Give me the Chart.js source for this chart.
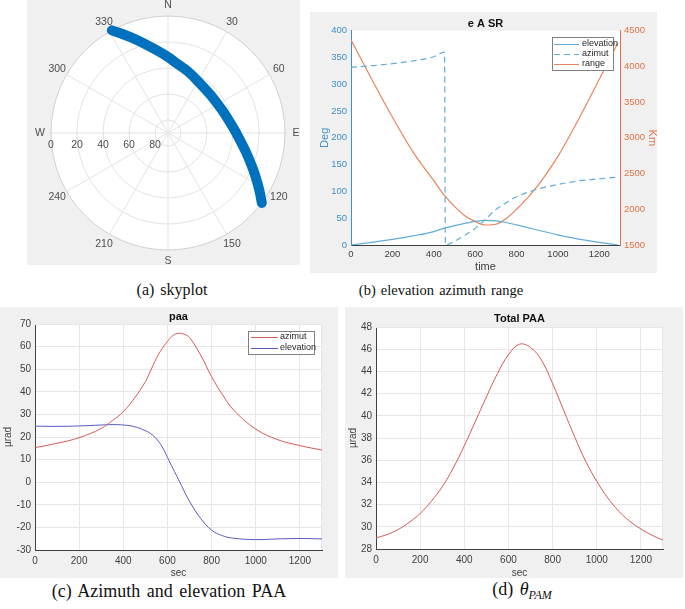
<!DOCTYPE html>
<html>
<head>
<meta charset="utf-8">
<script src="https://cdn.jsdelivr.net/npm/chart.js@4.4.1/dist/chart.umd.min.js"></script>
<style>
  body { margin: 0; background: #fff; width: 685px; height: 609px; position: relative; overflow: hidden; }
  .panel { position: absolute; background: #f0f0f0; }
  .panel canvas { display: block; }
  .caption { position: absolute; font-family: "Liberation Serif", "DejaVu Serif", serif; color: #111; white-space: nowrap; transform: translate(-50%, -50%); word-spacing: 2px; }
</style>
</head>
<body>
<div class="panel" style="left:27px;top:0;width:273px;height:265px"><canvas id="skyplot" width="273" height="265"></canvas></div>
<div class="panel" style="left:310px;top:12px;width:347px;height:261px"><canvas id="easr" width="347" height="261"></canvas></div>
<div class="panel" style="left:0;top:307px;width:338px;height:271px"><canvas id="paa" width="338" height="271"></canvas></div>
<div class="panel" style="left:345px;top:307px;width:338px;height:271px"><canvas id="totalPaa" width="338" height="271"></canvas></div>

<div class="caption" style="left:172px;top:290px;font-size:16px">(a) skyplot</div>
<div class="caption" style="left:441px;top:290px;font-size:14.5px;word-spacing:1.5px">(b) elevation azimuth range</div>
<div class="caption" style="left:169px;top:591px;font-size:18px">(c) Azimuth and elevation PAA</div>
<div class="caption" style="left:522px;top:591px;font-size:18px">(d) <i>θ</i><sub style="font-size:12px"><i>PAM</i></sub></div>

<script>
// (a)+(b) satellite pass: elevation / azimuth over time (deg)
const timeAE = [0, 100, 200, 300, 400, 452, 456, 500, 550, 600, 650, 700, 750, 800, 900, 1000, 1100, 1200, 1290];
const elevationDeg = [0, 5, 10.5, 17, 25, 31.5, 31.8, 36, 40.3, 44.2, 46.1, 45, 42, 37.5, 28, 19, 11, 5, 0];
const azimuthDeg = [331.3, 334.5, 338.3, 343.5, 351.2, 360, 0, 7, 18, 31, 48, 66, 79, 90, 104, 113, 119.3, 123.5, 126.7];

// (b) slant range (km)
const timeRange = [0, 100, 200, 300, 400, 450, 500, 550, 600, 650, 700, 750, 800, 850, 900, 950, 1000, 1100, 1200, 1290];
const rangeKm = [4370, 3820, 3290, 2800, 2400, 2200, 2040, 1910, 1830, 1780, 1790, 1870, 2000, 2150, 2320, 2520, 2740, 3260, 3820, 4330];

// (c) point-ahead angle components (urad)
const timePaa = [0, 100, 200, 300, 350, 400, 450, 500, 525, 550, 575, 600, 625, 650, 675, 700, 750, 800, 850, 900, 1000, 1100, 1200, 1300];
const azimutPaa = [15.3, 17.2, 19.7, 23.8, 27.2, 31.2, 37.1, 44.5, 49.6, 54.8, 59, 62.3, 64.9, 65.9, 65.5, 64, 56.3, 46.7, 38.6, 31.9, 23.5, 18.8, 16.2, 14.2];
const elevationPaa = [24.8, 24.7, 24.9, 25.3, 25.5, 25.3, 24.6, 22.8, 21.4, 19.2, 15.8, 11, 6, 1.2, -3.8, -8.5, -16, -21.2, -23.7, -24.8, -25.4, -25.1, -24.9, -25.1];

// (d) total PAA (urad)
const timeTotal = [0, 50, 100, 150, 200, 250, 300, 350, 400, 450, 500, 550, 600, 650, 700, 750, 800, 850, 900, 950, 1000, 1050, 1100, 1150, 1200, 1250, 1300];
const totalPaa = [29.0, 29.3, 29.75, 30.4, 31.2, 32.3, 33.6, 35.3, 37.3, 39.5, 41.7, 43.8, 45.5, 46.45, 46.15, 45.0, 42.9, 40.5, 38.1, 35.9, 34.1, 32.6, 31.4, 30.5, 29.8, 29.25, 28.8];

// skyplot grid
const azimuthSpokes = [0, 30, 60, 90, 120, 150, 180, 210, 240, 270, 300, 330];
const azimuthLabels = ['N', '30', '60', 'E', '120', '150', 'S', '210', '240', 'W', '300', '330'];
const elevationRings = [0, 20, 40, 60, 80];

Chart.defaults.font.family = '"Liberation Sans", Arial, sans-serif';
Chart.defaults.color = '#404040';

const toXY = (xs, ys) => xs.map((x, i) => ({ x: x, y: ys[i] }));
const plain = v => String(v);

// white plot area + light frame on the open sides
const plotBackground = {
  id: 'plotBackground',
  beforeDraw(chart, args, opts) {
    const { ctx, chartArea: a } = chart;
    ctx.save();
    ctx.fillStyle = '#fff';
    ctx.fillRect(a.left, a.top, a.width, a.height);
    ctx.restore();
  },
  beforeDatasetsDraw(chart, args, opts) {
    if (!opts.frame) return;
    const { ctx, chartArea: a } = chart;
    ctx.save();
    ctx.strokeStyle = opts.frame;
    ctx.lineWidth = 1;
    ctx.beginPath();
    ctx.moveTo(a.left, a.top + 0.5);
    ctx.lineTo(a.right - 0.5, a.top + 0.5);
    ctx.lineTo(a.right - 0.5, a.bottom);
    ctx.stroke();
    ctx.restore();
  }
};

// matlab style legend box inside the axes
const boxLegend = {
  id: 'boxLegend',
  afterDatasetsDraw(chart, args, o) {
    const ctx = chart.ctx;
    ctx.save();
    ctx.fillStyle = '#fff';
    ctx.fillRect(o.x, o.y, o.w, o.h);
    ctx.strokeStyle = '#808080';
    ctx.lineWidth = 1;
    ctx.strokeRect(o.x + 0.5, o.y + 0.5, o.w, o.h);
    ctx.font = o.font;
    ctx.textBaseline = 'middle';
    chart.data.datasets.forEach((ds, i) => {
      const y = o.y + o.rowTop + i * o.rowH;
      ctx.strokeStyle = ds.borderColor;
      ctx.setLineDash(ds.borderDash || []);
      ctx.beginPath();
      ctx.moveTo(o.x + o.lineFrom, y + 0.5);
      ctx.lineTo(o.x + o.lineTo, y + 0.5);
      ctx.stroke();
      ctx.setLineDash([]);
      ctx.fillStyle = '#262626';
      ctx.fillText(ds.label, o.x + o.textX, y);
    });
    ctx.restore();
  }
};

// polar grid for the skyplot (radius = 90 - elevation)
const skyGrid = {
  id: 'skyGrid',
  beforeDatasetsDraw(chart) {
    const { ctx, scales: { x, y } } = chart;
    const cx = x.getPixelForValue(0), cy = y.getPixelForValue(0);
    const R = x.getPixelForValue(90) - cx;
    ctx.save();
    ctx.fillStyle = '#fff';
    ctx.beginPath(); ctx.arc(cx, cy, R, 0, 2 * Math.PI); ctx.fill();
    ctx.strokeStyle = '#e3e3e3';
    ctx.lineWidth = 1;
    azimuthSpokes.forEach(az => {
      const a = az * Math.PI / 180;
      ctx.beginPath();
      ctx.moveTo(cx, cy);
      ctx.lineTo(cx + R * Math.sin(a), cy - R * Math.cos(a));
      ctx.stroke();
    });
    elevationRings.forEach(el => {
      const r = x.getPixelForValue(90 - el) - cx;
      ctx.strokeStyle = el === 0 ? '#cfcfcf' : '#e3e3e3';
      ctx.beginPath(); ctx.arc(cx, cy, r, 0, 2 * Math.PI); ctx.stroke();
    });
    ctx.fillStyle = '#4d4d4d';
    ctx.font = '10.5px "Liberation Sans", Arial, sans-serif';
    ctx.textAlign = 'center';
    ctx.textBaseline = 'middle';
    azimuthSpokes.forEach((az, i) => {
      const a = az * Math.PI / 180;
      ctx.fillText(azimuthLabels[i], cx + (R + 11) * Math.sin(a), cy - (R + 11) * Math.cos(a));
    });
    elevationRings.forEach(el => {
      const r = x.getPixelForValue(90 - el) - cx;
      ctx.fillText(String(el), cx - r, cy + 12);
    });
    ctx.restore();
  }
};

// skyplot track: polar -> plane, dropping the repeated point at the 360/0 wrap
const skyTrack = [];
azimuthDeg.forEach((az, i) => {
  const a = az * Math.PI / 180, r = 90 - elevationDeg[i];
  const p = { x: r * Math.sin(a), y: r * Math.cos(a) };
  const last = skyTrack[skyTrack.length - 1];
  if (!last || Math.hypot(p.x - last.x, p.y - last.y) > 1) skyTrack.push(p);
});

// (a) skyplot
new Chart(document.getElementById('skyplot'), {
  type: 'scatter',
  data: {
    datasets: [{
      data: skyTrack,
      showLine: true,
      borderColor: '#0072bd',
      borderWidth: 10,
      borderCapStyle: 'round',
      borderJoinStyle: 'round',
      tension: 0.4,
      pointRadius: 0,
      clip: false
    }]
  },
  options: {
    responsive: false,
    animation: false,
    devicePixelRatio: 1,
    layout: { padding: { left: 24, right: 15, top: 16, bottom: 15 } },
    plugins: { legend: { display: false }, tooltip: { enabled: false } },
    scales: {
      x: { type: 'linear', min: -90, max: 90, display: false },
      y: { type: 'linear', min: -90, max: 90, display: false }
    }
  },
  plugins: [skyGrid]
});

// (b) elevation azimuth range
const blueAxis = '#3f90c8', blueLine = '#62acd8', orangeAxis = '#df7446', orangeLine = '#e5855c';
new Chart(document.getElementById('easr'), {
  type: 'line',
  data: {
    datasets: [
      { label: 'elevation', data: toXY(timeAE, elevationDeg), yAxisID: 'y', borderColor: blueLine, borderWidth: 1.2, pointRadius: 0, cubicInterpolationMode: 'monotone' },
      { label: 'azimut', data: toXY(timeAE, azimuthDeg), yAxisID: 'y', borderColor: blueLine, borderDash: [6, 4], borderWidth: 1.2, pointRadius: 0, cubicInterpolationMode: 'monotone' },
      { label: 'range', data: toXY(timeRange, rangeKm), yAxisID: 'y2', borderColor: orangeLine, borderWidth: 1.2, pointRadius: 0, cubicInterpolationMode: 'monotone' }
    ]
  },
  options: {
    responsive: false,
    animation: false,
    devicePixelRatio: 1,
    layout: { padding: 0 },
    plugins: {
      legend: { display: false },
      tooltip: { enabled: false },
      title: { display: true, fullSize: false, text: 'e A SR', color: '#111', font: { size: 11, weight: 'bold' }, padding: { top: 5.4, bottom: 0 } },
      boxLegend: { x: 242, y: 25, w: 61, h: 33, rowTop: 7, rowH: 10, lineFrom: 2, lineTo: 27, textX: 30, font: '9px "Liberation Sans", Arial, sans-serif' }
    },
    scales: {
      x: {
        type: 'linear', min: 0, max: 1300,
        ticks: { stepSize: 200, includeBounds: false, padding: 4, color: '#404040', font: { size: 9.5 }, callback: plain },
        grid: { display: false, drawTicks: false },
        border: { color: '#404040' },
        title: { display: true, text: 'time', color: '#404040', font: { size: 11, lineHeight: 1 }, padding: { top: 0, bottom: 1 } },
        afterFit: s => { s.height = 28; }
      },
      y: {
        position: 'left', min: 0, max: 400,
        ticks: { stepSize: 50, padding: 4, color: blueAxis, font: { size: 9.5 }, callback: plain },
        grid: { display: false, drawTicks: false },
        border: { color: blueAxis },
        title: { display: true, text: 'Deg', color: blueAxis, font: { size: 11, lineHeight: 1 }, padding: { top: 9, bottom: 0 } },
        afterFit: s => { s.width = 41; }
      },
      y2: {
        position: 'right', min: 1500, max: 4500,
        ticks: { stepSize: 500, padding: 4, color: orangeAxis, font: { size: 9.5 }, callback: plain },
        grid: { display: false, drawTicks: false },
        border: { color: orangeAxis },
        title: { display: true, text: 'Km', color: orangeAxis, font: { size: 11, lineHeight: 1 }, padding: { top: -1, bottom: 0 } },
        afterFit: s => { s.width = 37; }
      }
    }
  },
  plugins: [plotBackground, boxLegend]
});

// shared look of the two PAA panels
function paaScales(yMin, yMax, yStep, yWidth, xHeight) {
  return {
    x: {
      type: 'linear', min: 0, max: 1300,
      ticks: { stepSize: 200, includeBounds: false, padding: 5, color: '#404040', font: { size: 10 }, callback: plain },
      grid: { color: '#e6e6e6', drawTicks: false },
      border: { color: '#404040' },
      title: { display: true, text: 'sec', color: '#404040', font: { size: 10, lineHeight: 1 }, padding: { top: 0, bottom: 0 } },
      afterFit: s => { s.height = xHeight; }
    },
    y: {
      min: yMin, max: yMax,
      ticks: { stepSize: yStep, padding: 4, color: '#404040', font: { size: 10 }, callback: plain },
      grid: { color: '#e6e6e6', drawTicks: false },
      border: { color: '#404040' },
      title: { display: true, text: 'µrad', color: '#404040', font: { size: 10, lineHeight: 1 }, padding: { top: 3, bottom: 0 } },
      afterFit: s => { s.width = yWidth; }
    }
  };
}

// (c) azimuth and elevation PAA
new Chart(document.getElementById('paa'), {
  type: 'line',
  data: {
    datasets: [
      { label: 'azimut', data: toXY(timePaa, azimutPaa), borderColor: '#d55a58', borderWidth: 1, pointRadius: 0, tension: 0.4 },
      { label: 'elevation', data: toXY(timePaa, elevationPaa), borderColor: '#5a5ac4', borderWidth: 1, pointRadius: 0, tension: 0.4 }
    ]
  },
  options: {
    responsive: false,
    animation: false,
    devicePixelRatio: 1,
    layout: { padding: { right: 16 } },
    plugins: {
      legend: { display: false },
      tooltip: { enabled: false },
      title: { display: true, fullSize: false, text: 'paa', color: '#111', font: { size: 11, weight: 'bold' }, padding: { top: 3.4, bottom: 0.4 } },
      plotBackground: { frame: '#e6e6e6' },
      boxLegend: { x: 248, y: 24, w: 66, h: 23, rowTop: 6, rowH: 11, lineFrom: 3, lineTo: 30, textX: 32, font: '9px "Liberation Sans", Arial, sans-serif' }
    },
    scales: paaScales(-30, 70, 10, 35, 28)
  },
  plugins: [plotBackground, boxLegend]
});

// (d) total PAA
new Chart(document.getElementById('totalPaa'), {
  type: 'line',
  data: {
    datasets: [
      { label: 'total', data: toXY(timeTotal, totalPaa), borderColor: '#d55a58', borderWidth: 1, pointRadius: 0, tension: 0.4 }
    ]
  },
  options: {
    responsive: false,
    animation: false,
    devicePixelRatio: 1,
    layout: { padding: { right: 20 } },
    plugins: {
      legend: { display: false },
      tooltip: { enabled: false },
      title: { display: true, fullSize: false, text: 'Total PAA', color: '#111', font: { size: 11, weight: 'bold' }, padding: { top: 5.4, bottom: 1.4 } },
      plotBackground: { frame: '#e6e6e6' }
    },
    scales: paaScales(28, 48, 2, 31, 29)
  },
  plugins: [plotBackground]
});
</script>
</body>
</html>
